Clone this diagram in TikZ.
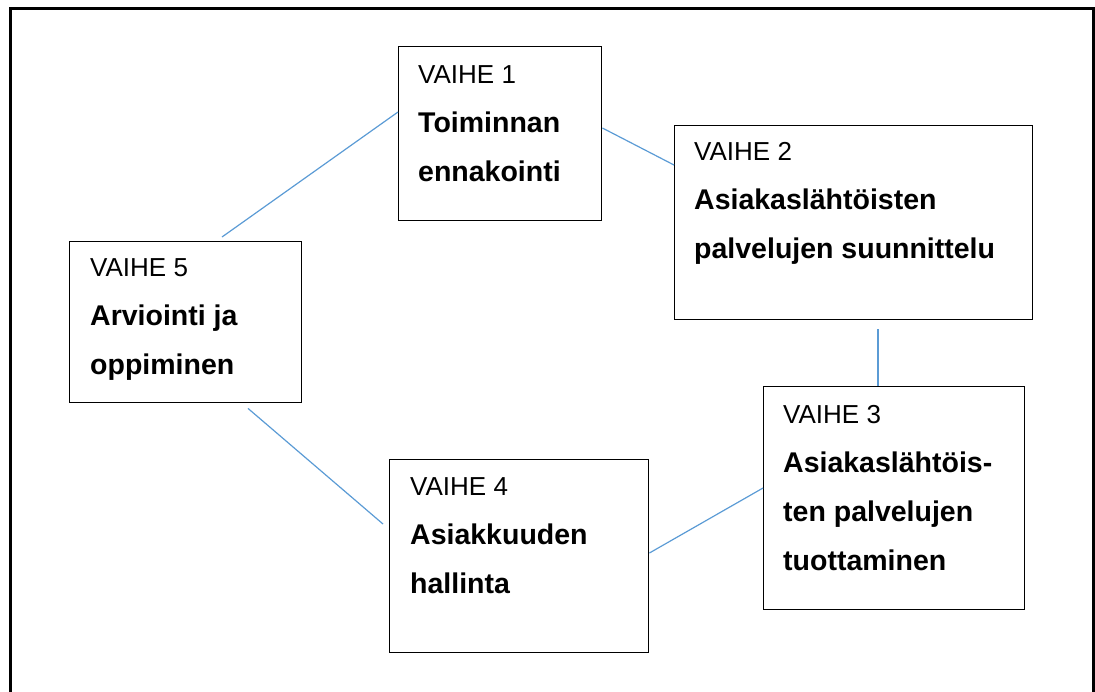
\documentclass[tikz,border=0pt]{standalone}
\usepackage{fontspec}
\setmainfont{Liberation Sans}
\definecolor{linkblue}{RGB}{91,155,213}
\begin{document}
\begin{tikzpicture}[x=1pt,y=-1pt,
  box/.style={draw=black,line width=1.4pt,inner sep=0pt,anchor=north west},
  link/.style={draw=linkblue,line width=1.2pt},
  lbl/.style={anchor=base west,align=left,inner sep=0pt,
    font=\bfseries\fontsize{28.5}{49}\selectfont}]
\useasboundingbox (0,0) rectangle (1095,691);
\draw[line width=3pt] (10.5,700) -- (10.5,8.5) -- (1093.5,8.5) -- (1093.5,700);
% boxes
\node[box,minimum width=203pt,minimum height=174pt] (b1) at (398,46) {};
\node[box,minimum width=358pt,minimum height=194pt] (b2) at (674,125) {};
\node[box,minimum width=261pt,minimum height=223pt] (b3) at (763,386) {};
\node[box,minimum width=259pt,minimum height=193pt] (b4) at (389,459) {};
\node[box,minimum width=232pt,minimum height=161pt] (b5) at (69,241) {};
% texts (anchored at the baseline of their last line)
\node[lbl] (t1) at ([shift={(20,135)}]b1.north west) {{\mdseries\fontsize{26}{49}\selectfont VAIHE 1}\\Toiminnan\\ennakointi};
\node[lbl] (t2) at ([shift={(20,133)}]b2.north west) {{\mdseries\fontsize{26}{49}\selectfont VAIHE 2}\\Asiakaslähtöisten\\palvelujen suunnittelu};
\node[lbl] (t3) at ([shift={(20,184)}]b3.north west) {{\mdseries\fontsize{26}{49}\selectfont VAIHE 3}\\Asiakaslähtöis-\\ten palvelujen\\tuottaminen};
\node[lbl] (t4) at ([shift={(21,134)}]b4.north west) {{\mdseries\fontsize{26}{49}\selectfont VAIHE 4}\\Asiakkuuden\\hallinta};
\node[lbl] (t5) at ([shift={(21,133)}]b5.north west) {{\mdseries\fontsize{26}{49}\selectfont VAIHE 5}\\Arviointi ja\\oppiminen};
% connectors
\draw[link] ([shift={(153,-4)}]b5.north west) -- ([shift={(0,66)}]b1.north west);
\draw[link] ([shift={(0,82)}]b1.north east) -- ([shift={(0,40)}]b2.north west);
\draw[link] ([shift={(204,9)}]b2.south west) -- ([shift={(115,0)}]b3.north west);
\draw[link] ([shift={(0,102)}]b3.north west) -- ([shift={(0,94)}]b4.north east);
\draw[link] ([shift={(179,5)}]b5.south west) -- ([shift={(-6,65)}]b4.north west);
\end{tikzpicture}
\end{document}
